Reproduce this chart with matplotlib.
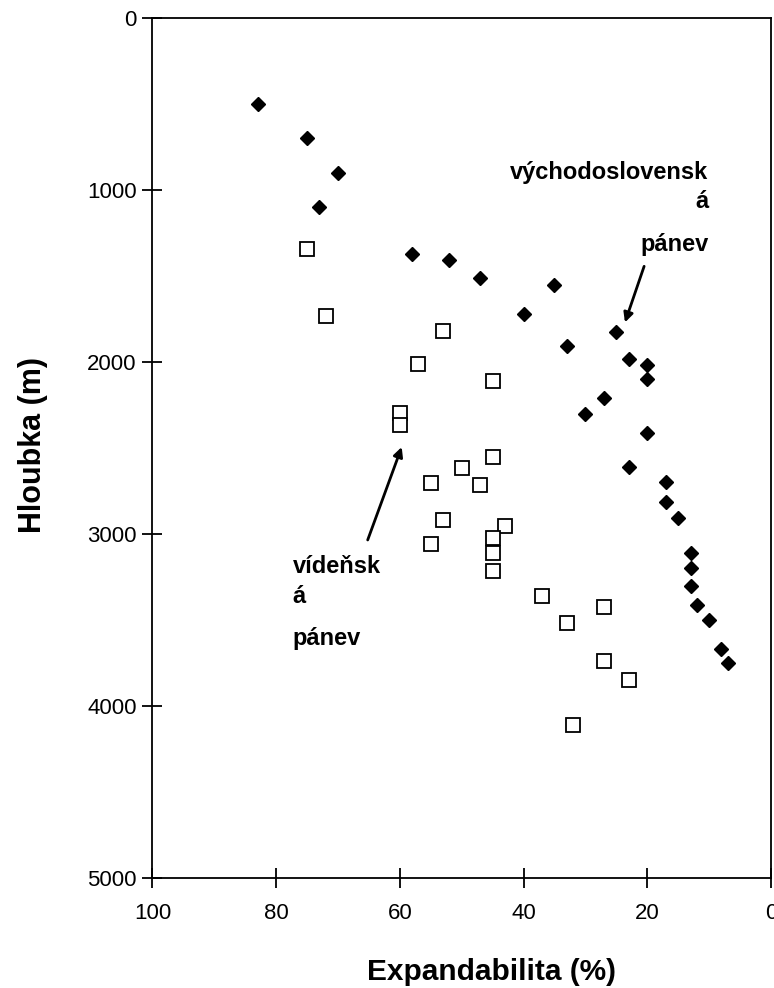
import matplotlib.pyplot as plt
import numpy as np

# východoslovenská pánev (filled diamonds)
vsp_exp = [83, 75, 70, 73, 58, 52, 47, 35, 40, 25, 33, 23, 20, 20, 27, 30, 20,
           23, 17, 17, 15, 13, 13, 13, 12, 10, 8, 7]
vsp_depth = [500, 700, 900, 1100, 1370, 1410, 1510, 1550, 1720, 1825, 1905,
             1980, 2020, 2100, 2210, 2300, 2410, 2610, 2700, 2815, 2905, 3110,
             3195, 3300, 3410, 3500, 3670, 3750]

# vídeňská pánev (open squares)
vp_exp = [75, 72, 53, 57, 45, 60, 60, 45, 50, 55, 47, 53, 43, 45, 55, 45, 45,
          37, 27, 33, 27, 23, 32]
vp_depth = [1345, 1730, 1820, 2010, 2110, 2295, 2365, 2550, 2615, 2705, 2715,
            2920, 2955, 3020, 3060, 3110, 3215, 3360, 3425, 3515, 3735, 3845,
            4110]

xticks = [100, 80, 60, 40, 20, 0]
yticks = [0, 1000, 2000, 3000, 4000, 5000]

plt.rcParams['font.family'] = ['Liberation Sans', 'DejaVu Sans']

fig = plt.figure(figsize=(7.74, 9.88), dpi=100)
ax = fig.add_axes([0.197, 0.111, 0.799, 0.871])

ax.plot(vsp_exp, vsp_depth, linestyle='none', marker='D', markersize=7,
        color='black')
ax.plot(vp_exp, vp_depth, linestyle='none', marker='s', markersize=10,
        markerfacecolor='white', markeredgecolor='black', markeredgewidth=1.3)

ax.set_xlim(100, 0)
ax.set_ylim(5000, 0)
ax.set_xticks(xticks)
ax.set_yticks(yticks)
ax.tick_params(direction='inout', length=15, width=1.3, labelsize=16)
ax.tick_params(axis='x', pad=10)
ax.tick_params(axis='y', pad=4)
for s in ax.spines.values():
    s.set_linewidth(1.3)

ax.set_xlabel('Expandabilita (%)', fontsize=21.5, fontweight='bold', va='center')
ax.xaxis.set_label_coords(0.548, -0.109)
ax.set_ylabel('Hloubka (m)', fontsize=22, fontweight='bold', va='center')
ax.yaxis.set_label_coords(-0.194, 0.503)

tk = dict(fontsize=17, fontweight='bold', va='center')
ax.text(10.1, 897, 'východoslovensk', ha='right', **tk)
ax.text(10.1, 1066, 'á', ha='right', **tk)
ax.text(10.1, 1316, 'pánev', ha='right', **tk)
ax.annotate('', xy=(23.6, 1770), xytext=(20.5, 1444),
            arrowprops=dict(arrowstyle='-|>', lw=2, color='black',
                            mutation_scale=14, shrinkA=0, shrinkB=0))

ax.text(77.3, 3190, 'vídeňsk', ha='left', **tk)
ax.text(77.3, 3364, 'á', ha='left', **tk)
ax.text(77.3, 3607, 'pánev', ha='left', **tk)
ax.annotate('', xy=(59.7, 2494), xytext=(65.2, 3034),
            arrowprops=dict(arrowstyle='-|>', lw=2, color='black',
                            mutation_scale=14, shrinkA=0, shrinkB=0))

fig.savefig('out.png', dpi=100)
